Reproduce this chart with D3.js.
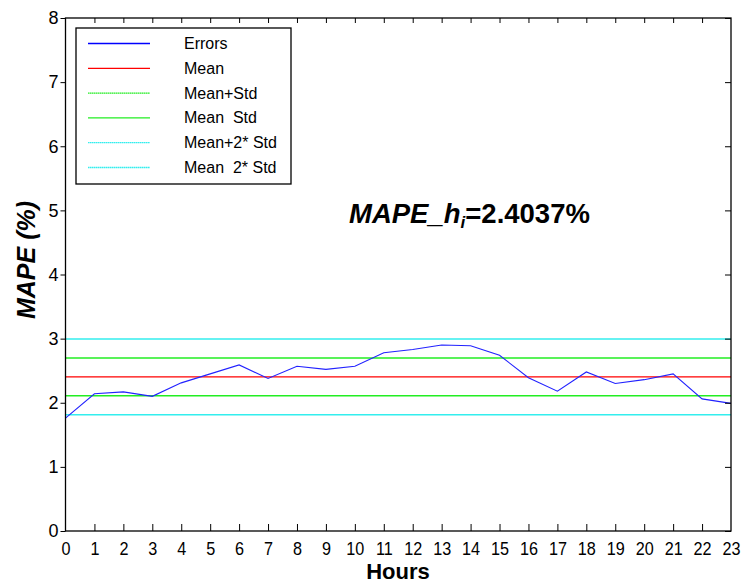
<!DOCTYPE html>
<html>
<head>
<meta charset="utf-8">
<script src="https://cdn.jsdelivr.net/npm/d3@7"></script>
<style>
  html, body { margin: 0; padding: 0; background: #fff; }
  svg { display: block; font-family: "Liberation Sans", Arial, sans-serif; }
</style>
</head>
<body>
<svg id="chart" width="748" height="585"></svg>
<script>
// Hourly MAPE errors (%)
const hours = d3.range(0, 24);
const errors = [1.76, 2.14, 2.17, 2.10, 2.31, 2.45, 2.59, 2.38, 2.57, 2.52, 2.57, 2.78,
                2.83, 2.90, 2.89, 2.74, 2.39, 2.18, 2.48, 2.30, 2.36, 2.45, 2.06, 1.99];
const meanValue = 2.4037;
const stdValue = 0.295;
const yTicks = [0, 1, 2, 3, 4, 5, 6, 7, 8];

// Reference levels: mean and +/- 1, 2 standard deviations
const levelNames = ["Mean", "Mean+Std", "Mean  Std", "Mean+2* Std", "Mean  2* Std"];
const levelValues = [meanValue, meanValue + stdValue, meanValue - stdValue,
                     meanValue + 2 * stdValue, meanValue - 2 * stdValue];
const levelColors = ["#ff0000", "#22ee22", "#22ee22", "#33eeee", "#33eeee"];
const legendNames = ["Errors"].concat(levelNames);
const legendColors = ["#0000ff"].concat(levelColors);
const legendDash = [null, null, "1.6,0.4", null, "1.6,0.4", "1.6,0.4"];

const svg = d3.select("#chart");
const plotLeft = 65.5, plotRight = 731, plotTop = 18, plotBottom = 531;

const x = d3.scaleLinear().domain([0, 23]).range([plotLeft, plotRight]);
const y = d3.scaleLinear().domain([0, 8]).range([plotBottom, plotTop]);

// Reference lines
svg.append("g").selectAll("line").data(levelValues).join("line")
  .attr("x1", x(0)).attr("x2", x(23))
  .attr("y1", d => y(d)).attr("y2", d => y(d))
  .attr("stroke", (d, i) => levelColors[i])
  .attr("stroke-width", 1.4);

// Error curve
svg.append("path")
  .datum(hours)
  .attr("fill", "none")
  .attr("stroke", "#2222ff")
  .attr("stroke-width", 1.1)
  .attr("d", d3.line().x(h => x(h)).y(h => y(errors[h])));

// Axes: box with ticks on all four sides
svg.append("rect")
  .attr("x", plotLeft).attr("y", plotTop)
  .attr("width", plotRight - plotLeft).attr("height", plotBottom - plotTop)
  .attr("fill", "none").attr("stroke", "#000").attr("stroke-width", 1.3);

const bottomAxis = svg.append("g")
  .attr("transform", `translate(0,${plotBottom})`)
  .call(d3.axisBottom(x).tickValues(hours).tickFormat(d3.format("d")).tickSizeInner(-7).tickSizeOuter(0).tickPadding(11));
const topAxis = svg.append("g")
  .attr("transform", `translate(0,${plotTop})`)
  .call(d3.axisTop(x).tickValues(hours).tickSizeInner(-5).tickSizeOuter(0).tickFormat(""));
const leftAxis = svg.append("g")
  .attr("transform", `translate(${plotLeft},0)`)
  .call(d3.axisLeft(y).tickValues(yTicks).tickFormat(d3.format("d")).tickSizeInner(5).tickSizeOuter(0).tickPadding(2));
const rightAxis = svg.append("g")
  .attr("transform", `translate(${plotRight},0)`)
  .call(d3.axisRight(y).tickValues(yTicks).tickSizeInner(-6).tickSizeOuter(0).tickFormat(""));

[bottomAxis, topAxis, leftAxis, rightAxis].forEach(g => {
  g.select(".domain").remove();
  g.selectAll(".tick line").attr("stroke", "#000");
  g.selectAll("text").attr("font-size", 18).attr("font-family", "Liberation Sans, Arial, sans-serif").attr("fill", "#000");
});
bottomAxis.selectAll("text").attr("transform", "scale(0.9,1)").attr("x", 0);
bottomAxis.selectAll(".tick").filter(d => d === 0 || d === 23).select("line").remove();
topAxis.selectAll(".tick").filter(d => d === 0 || d === 23).select("line").remove();

// Axis titles
svg.append("text")
  .attr("x", 398).attr("y", 579)
  .attr("text-anchor", "middle")
  .attr("font-size", 22).attr("font-weight", "bold")
  .text("Hours");
svg.append("text")
  .attr("transform", "translate(35,260) rotate(-90)")
  .attr("text-anchor", "middle")
  .attr("font-size", 25).attr("font-weight", "bold").attr("font-style", "italic")
  .text("MAPE (%)");

// Annotation with the mean error
const note = svg.append("text")
  .attr("x", 349).attr("y", 223)
  .attr("font-size", 27.5).attr("font-weight", "bold");
note.append("tspan").attr("font-style", "italic").text("MAPE_h");
note.append("tspan").attr("font-style", "italic").attr("font-size", 17).attr("dy", 5).text("i");
note.append("tspan").attr("dy", -5).text("=" + meanValue.toFixed(4) + "%");

// Legend
const legend = svg.append("g");
legend.append("rect")
  .attr("x", 76).attr("y", 28).attr("width", 215).attr("height", 156)
  .attr("fill", "#fff").attr("stroke", "#000").attr("stroke-width", 1.3);
const rows = legend.selectAll("g.row").data(legendNames).join("g")
  .attr("class", "row")
  .attr("transform", (d, i) => `translate(0,${43.5 + i * 24.8})`);
rows.append("line")
  .attr("x1", 88).attr("x2", 150)
  .attr("stroke", (d, i) => legendColors[i])
  .attr("stroke-dasharray", (d, i) => legendDash[i])
  .attr("stroke-width", 1.3);
rows.append("text")
  .attr("x", 184).attr("y", 5.5)
  .attr("font-size", 16)
  .style("white-space", "pre")
  .text(d => d);
</script>
</body>
</html>
